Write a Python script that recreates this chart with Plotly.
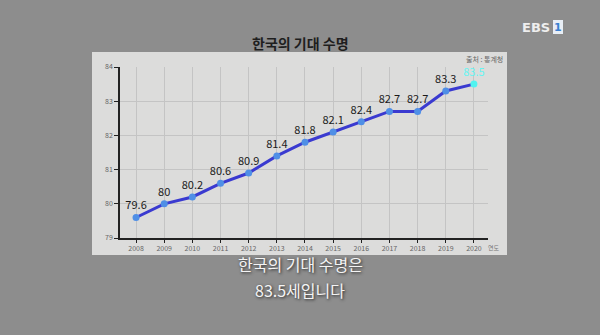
import plotly.graph_objects as go

years = [2008, 2009, 2010, 2011, 2012, 2013, 2014, 2015, 2016, 2017, 2018, 2019, 2020]
life = [79.6, 80.0, 80.2, 80.6, 80.9, 81.4, 81.8, 82.1, 82.4, 82.7, 82.7, 83.3, 83.5]
labels = ["79.6", "80", "80.2", "80.6", "80.9", "81.4", "81.8", "82.1", "82.4", "82.7", "82.7", "83.3", "83.5"]
y_ticks = [79, 80, 81, 82, 83, 84]

title_text = "한국의 기대 수명"
source_text = "출처 : 통계청"
unit_text = "연도"
caption_lines = ["한국의 기대 수명은", "83.5세입니다"]

FONT = "Noto Sans CJK KR"
marker_colors = ["#4f8fe6"] * (len(years) - 1) + ["#4ff3f0"]
label_colors = ["#1a1a1a"] * (len(years) - 1) + ["#66f5f2"]

fig = go.Figure()
fig.add_trace(go.Scatter(
    x=years, y=life, mode="lines",
    line=dict(color="#3a3ad0", width=3),
    hoverinfo="skip", showlegend=False,
))
fig.add_trace(go.Scatter(
    x=years, y=life, mode="markers+text",
    marker=dict(color=marker_colors, size=7),
    text=labels, textposition="top center",
    textfont=dict(family=FONT, size=11, color=label_colors),
    showlegend=False,
))

W, H = 600, 335
l, r, t, b = 120, 112, 67, 97
pw, ph = W - l - r, H - t - b

def px(xp):
    return (xp - l) / pw

def py(yp):
    return (H - b - yp) / ph

shapes = [
    dict(type="rect", xref="paper", yref="paper",
         x0=px(92), x1=px(507), y0=py(255), y1=py(52),
         fillcolor="#dcdcdb", line=dict(width=0), layer="below"),
    dict(type="rect", xref="paper", yref="paper",
         x0=px(553), x1=px(563), y0=py(34), y1=py(20),
         fillcolor="#e8eef5", line=dict(width=0)),
]

def ann(text, x, y, size, color, xanchor="center", yanchor="middle", family=FONT, **fontkw):
    return dict(text=text, xref="paper", yref="paper",
                x=px(x), y=py(y), xanchor=xanchor, yanchor=yanchor,
                showarrow=False, borderpad=0,
                font=dict(family=family, size=size, color=color, **fontkw))

shadow = "1px 1px 3px #222"
annotations = [
    ann("<b>" + title_text + "</b>", 300, 43, 14, "#1e1e1e"),
    ann(source_text, 504, 59, 7, "#666", xanchor="right"),
    ann(unit_text, 487, 247, 6, "#777", xanchor="left"),
    ann(caption_lines[0], 300, 277, 16, "#f4f4f4", yanchor="bottom", shadow=shadow),
    ann(caption_lines[1], 300, 277, 16, "#f4f4f4", yanchor="top", shadow=shadow),
    ann("<b>EBS</b>", 551, 27, 13, "#eeeeee", xanchor="right", family="DejaVu Sans"),
    ann("<b>1</b>", 558, 27, 11, "#3a7fd0", family="DejaVu Sans"),
]

fig.update_layout(
    width=W, height=H,
    margin=dict(l=l, r=r, t=t, b=b),
    paper_bgcolor="#8d8d8d",
    plot_bgcolor="rgba(0,0,0,0)",
    shapes=shapes, annotations=annotations,
    xaxis=dict(range=[2007.43, 2020.5], tickvals=years,
               ticktext=[str(v) for v in years],
               showgrid=True, gridcolor="#c4c4c4", gridwidth=1,
               showline=True, linecolor="#222", linewidth=1.5,
               ticks="outside", ticklen=3, tickcolor="#222",
               tickfont=dict(family=FONT, size=7, color="#666"),
               zeroline=False, fixedrange=True),
    yaxis=dict(range=[79, 84], tickvals=y_ticks,
               showgrid=True, gridcolor="#c4c4c4", gridwidth=1,
               showline=True, linecolor="#222", linewidth=1.5,
               ticks="outside", ticklen=4, tickcolor="#222",
               tickfont=dict(family=FONT, size=7, color="#666"),
               zeroline=False, fixedrange=True),
)

fig.write_html("out.html", config={"displayModeBar": False})
